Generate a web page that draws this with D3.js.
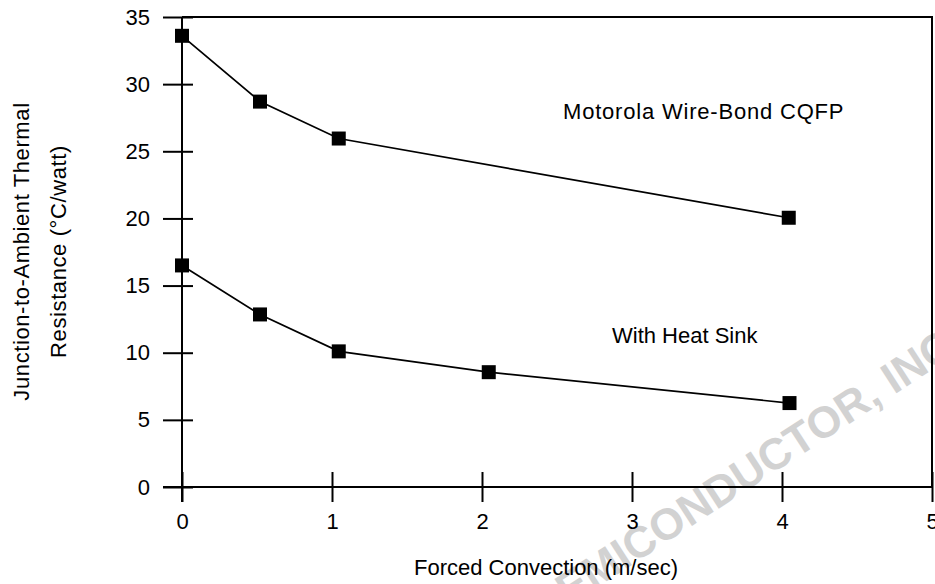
<!DOCTYPE html>
<html>
<head>
<meta charset="utf-8">
<script src="https://cdn.jsdelivr.net/npm/d3@7"></script>
<style>
  body { margin: 0; background: #fff; }
  svg text { font-family: "Liberation Sans", Arial, sans-serif; fill: #000; }
</style>
</head>
<body>
<div id="chart"></div>
<script>
// readings
var wireBondSpeed = [0, 0.52, 1.045, 4.045];
var wireBondRes   = [33.6, 28.7, 25.95, 20.05];
var heatSinkSpeed = [0, 0.52, 1.045, 2.045, 4.05];
var heatSinkRes   = [16.5, 12.85, 10.1, 8.55, 6.25];
var xTicks = [0, 1, 2, 3, 4, 5];
var yTicks = [0, 5, 10, 15, 20, 25, 30, 35];

var width = 935, height = 584;

var x = d3.scaleLinear().domain([0, 5]).range([182, 932]);
var y = d3.scaleLinear().domain([0, 35]).range([487, 17]);

var svg = d3.select("#chart").append("svg")
    .attr("width", width)
    .attr("height", height);

// watermark, under everything else
svg.append("text")
    .attr("transform", "translate(544,622) rotate(-33)")
    .style("font-size", "44px")
    .style("font-weight", "bold")
    .style("fill", "#d2d2d2")
    .text("SEMICONDUCTOR, INC.");

// frame: top and right edges
svg.append("path")
    .attr("d", "M" + x(0) + "," + y(35) + "H" + x(5) + "V" + y(0))
    .attr("fill", "none")
    .attr("stroke", "#000")
    .attr("stroke-width", 2);

// x axis
var xAxis = svg.append("g")
    .attr("transform", "translate(0," + y(0) + ")")
    .call(d3.axisBottom(x).tickValues(xTicks).tickSize(15).tickPadding(11).tickFormat(d3.format("d")));
xAxis.select(".domain").remove();
xAxis.selectAll(".tick line").attr("y1", -15).attr("stroke-width", 2);
xAxis.selectAll("text").style("font-size", "22px");

svg.append("line")
    .attr("x1", x(0) - 19).attr("x2", x(5))
    .attr("y1", y(0)).attr("y2", y(0))
    .attr("stroke", "#000").attr("stroke-width", 2);

// y axis
var yAxis = svg.append("g")
    .attr("transform", "translate(" + x(0) + ",0)")
    .call(d3.axisLeft(y).tickValues(yTicks).tickSize(19).tickPadding(13));
yAxis.select(".domain").remove();
yAxis.selectAll(".tick line").attr("x1", 11).attr("stroke-width", 2);
yAxis.selectAll("text").style("font-size", "22px");

svg.append("line")
    .attr("x1", x(0)).attr("x2", x(0))
    .attr("y1", y(35)).attr("y2", y(0) + 15)
    .attr("stroke", "#000").attr("stroke-width", 2);

// series
var series = [
    { xs: wireBondSpeed, ys: wireBondRes },
    { xs: heatSinkSpeed, ys: heatSinkRes }
];

var line = d3.line()
    .x(function(d) { return x(d[0]); })
    .y(function(d) { return y(d[1]); });

series.forEach(function(s) {
    var pts = d3.zip(s.xs, s.ys);
    svg.append("path")
        .datum(pts)
        .attr("d", line)
        .attr("fill", "none")
        .attr("stroke", "#000")
        .attr("stroke-width", 1.7);

    svg.append("g").selectAll("rect")
        .data(pts)
        .enter().append("rect")
        .attr("x", function(d) { return x(d[0]) - 7; })
        .attr("y", function(d) { return y(d[1]) - 7; })
        .attr("width", 14)
        .attr("height", 14)
        .attr("fill", "#000");
});

// labels
svg.append("text")
    .attr("x", 563).attr("y", 119)
    .style("font-size", "22px")
    .style("letter-spacing", "0.8px")
    .text("Motorola Wire-Bond CQFP");

svg.append("text")
    .attr("x", 612).attr("y", 343)
    .style("font-size", "22px")
    .text("With Heat Sink");

svg.append("text")
    .attr("x", 546).attr("y", 575)
    .attr("text-anchor", "middle")
    .style("font-size", "22px")
    .text("Forced Convection (m/sec)");

svg.append("text")
    .attr("transform", "translate(29,251.5) rotate(-90)")
    .attr("text-anchor", "middle")
    .style("font-size", "22px")
    .style("letter-spacing", "0.6px")
    .text("Junction-to-Ambient Thermal");

svg.append("text")
    .attr("transform", "translate(66,251.5) rotate(-90)")
    .attr("text-anchor", "middle")
    .style("font-size", "22px")
    .style("letter-spacing", "0.6px")
    .text("Resistance (\u00B0C/watt)");
</script>
</body>
</html>
